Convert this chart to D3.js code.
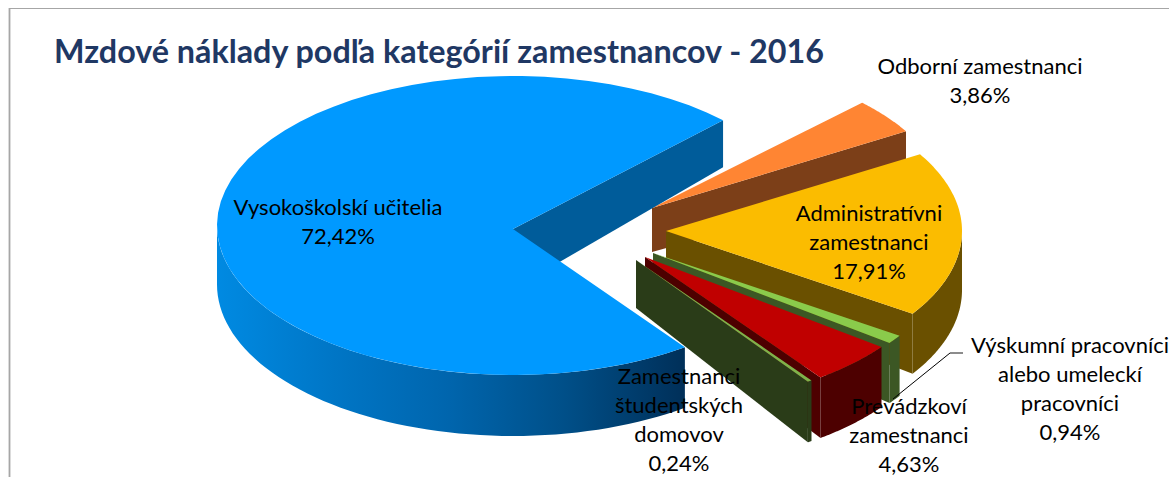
<!DOCTYPE html>
<html><head><meta charset="utf-8">
<script src="https://cdnjs.cloudflare.com/ajax/libs/d3/7.8.5/d3.min.js"></script>
<style>html,body{margin:0;padding:0;background:#fff;overflow:hidden}svg{display:block}</style>
</head><body><div id="chart"></div>
<script>
const titleText = "Mzdové náklady podľa kategórií zamestnancov - 2016";
const categories = ["Vysokoškolskí učitelia","Odborní zamestnanci","Administratívni zamestnanci","Výskumní pracovníci alebo umeleckí pracovníci","Prevádzkoví zamestnanci","Zamestnanci študentských domovov"];
const values = [72.42,3.86,17.91,0.94,4.63,0.24];
const valueLabels = ["72,42%","3,86%","17,91%","0,94%","4,63%","0,24%"];
const labelLines = [["Vysokoškolskí učitelia"],["Odborní zamestnanci"],["Administratívni","zamestnanci"],["Výskumní pracovníci","alebo umeleckí","pracovníci"],["Prevádzkoví","zamestnanci"],["Zamestnanci","študentských","domovov"]];
const topColors = ["#0099ff","#ff8533","#fbbc00","#8acb4b","#c00000","#7fb24a"];
const wallColors = ["url(#blueWall)","#7c3f18","#6a5000","#3c5724","#4d0000","#2a3c18"];
const faceColors = ["#005c9a","#7c3f18","#6a5000","#3c5724","#4d0000","#2a3c18"];
const wallStops = [[0,"#008ae2"],[0.25,"#0076c6"],[0.5,"#0065ad"],[0.75,"#004f88"],[1,"#00305a"]];
// layout
const apexX = [513,652,666,653,645,636];
const apexY = [229,208,231,253,257,260];
const rimCY = [225.5,208,231,253,257,260];
const apexDepth = [60,44,48,48,48,48];
const labelCX = [338,980,869,1070,909,679];
const labelTop = [207,66,213,345,406,376];
const drawOrder = [1,2,3,4,5,0];
const RX = 296, RY = 149.5, W = 1169, H = 477, LINE = 29.2;

const svg = d3.select("#chart").append("svg").attr("width",W).attr("height",H);
const grad = svg.append("defs").append("linearGradient").attr("id","blueWall")
  .attr("gradientUnits","userSpaceOnUse").attr("x1",217).attr("x2",682).attr("y1",0).attr("y2",0);
wallStops.forEach(s=>grad.append("stop").attr("offset",s[0]).attr("stop-color",s[1]));

svg.append("line").attr("x1",9).attr("x2",W).attr("y1",8.5).attr("y2",8.5).attr("stroke","#a6a6a6").attr("stroke-width",1.2);
svg.append("line").attr("x1",9.5).attr("x2",9.5).attr("y1",8).attr("y2",H).attr("stroke","#a6a6a6").attr("stroke-width",1.8);

const toRad = Math.PI/180;
const pie = d3.pie().sort(null).startAngle(144.5*toRad).endAngle((144.5+360)*toRad);
const arcs = pie(values);
const rim = (i,t)=>[apexX[i]+RX*Math.cos(t), rimCY[i]+RY*Math.sin(t)];
const rimDepth = t=>{const s=Math.sin(t);return s>=0?59+2*s:59+17*s;};
const line = d3.line();
const sample = (a,b)=>d3.range(0,61).map(k=>a+(b-a)*k/60);

drawOrder.forEach(i=>{
  const th0 = arcs[i].startAngle-Math.PI/2, th1 = arcs[i].endAngle-Math.PI/2;
  const apex = [apexX[i],apexY[i]];
  const g = svg.append("g");
  const tip = rim(i,th1);
  g.append("path").attr("fill",faceColors[i]).attr("d",line([apex,tip,[tip[0],tip[1]+rimDepth(th1)],[apex[0],apex[1]+apexDepth[i]]])+"Z");
  [0,2*Math.PI].forEach(off=>{
    const a = Math.max(th0-off,0), b = Math.min(th1-off,Math.PI);
    if(b>a){
      const ts = sample(a,b);
      const up = ts.map(t=>rim(i,t));
      const down = ts.slice().reverse().map(t=>{const p=rim(i,t);return [p[0],p[1]+rimDepth(t)];});
      g.append("path").attr("fill",wallColors[i]).attr("d",line(up.concat(down))+"Z");
    }
  });
  const pts = [apex].concat(sample(th0,th1).map(t=>rim(i,t)));
  g.append("path").attr("fill",topColors[i]).attr("d",line(pts)+"Z");
});

svg.append("path").attr("fill","none").attr("stroke","#000").attr("stroke-width",1)
  .attr("d",line([[893,399],[950,353]]));
svg.append("path").attr("fill","none").attr("stroke","#404040").attr("stroke-width",1.2)
  .attr("d",line([[950,353],[963,353]]));

svg.append("text").attr("x",54).attr("y",63).attr("fill","#1f3864")
  .attr("font-family","Lato, 'Open Sans', sans-serif").attr("font-weight",700).attr("font-size",32.3)
  .text(titleText);

categories.forEach((c,i)=>{
  const lines = labelLines[i].concat([valueLabels[i]]);
  const t = svg.append("text").attr("text-anchor","middle").attr("fill","#000")
    .attr("font-family","Lato, 'Open Sans', sans-serif").attr("font-size",22);
  lines.forEach((s,k)=>t.append("tspan").attr("x",labelCX[i]).attr("y",labelTop[i]+k*LINE).attr("dy","0.35em").text(s));
});
</script></body></html>
